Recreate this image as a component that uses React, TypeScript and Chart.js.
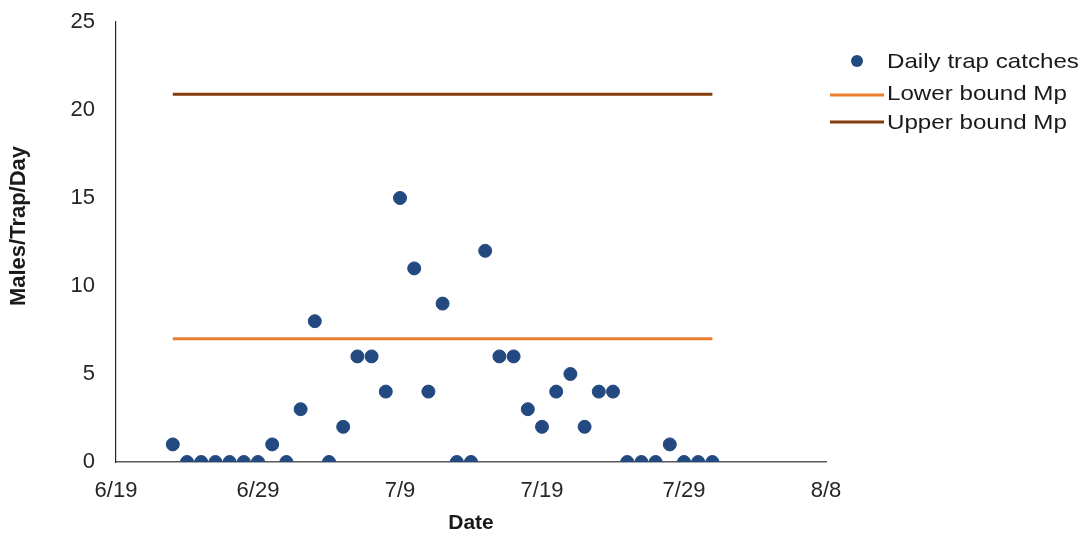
import React, { useEffect, useRef } from "react";
import { Chart, registerables } from "chart.js";

Chart.register(...registerables);

// Dates (month/day) of daily trap checks
const catchDates: string[] = [
  "6/23", "6/24", "6/25", "6/26", "6/27", "6/28", "6/29", "6/30", "7/1", "7/2",
  "7/3", "7/4", "7/5", "7/6", "7/7", "7/8", "7/9", "7/10", "7/11", "7/12",
  "7/13", "7/14", "7/15", "7/16", "7/17", "7/18", "7/19", "7/20", "7/21", "7/22",
  "7/23", "7/24", "7/25", "7/26", "7/27", "7/28", "7/29", "7/30", "7/31",
];
const dailyCatches: number[] = [
  1, 0, 0, 0, 0, 0, 0, 1, 0, 3,
  8, 0, 2, 6, 6, 4, 15, 11, 4, 9,
  0, 0, 12, 6, 6, 3, 2, 4, 5, 2,
  4, 4, 0, 0, 0, 1, 0, 0, 0,
];
const boundDates: string[] = ["6/23", "7/31"];
const lowerBound: number[] = [7, 7];
const upperBound: number[] = [20.9, 20.9];
const xTickDates: string[] = ["6/19", "6/29", "7/9", "7/19", "7/29", "8/8"];
const yTicks: number[] = [0, 5, 10, 15, 20, 25];

const legendLabels: string[] = ["Daily trap catches", "Lower bound Mp", "Upper bound Mp"];
const yTitle = "Males/Trap/Day";
const xTitle = "Date";

const DOT = "#234a80";
const ORANGE = "#ed7d31";
const BROWN = "#843c0c";
const FONT = "'Liberation Sans', Arial, sans-serif";

const monthStart: Record<number, number> = { 6: 0, 7: 30, 8: 61 };
const dayNum = (s: string): number => {
  const [m, d] = s.split("/").map(Number);
  return monthStart[m] + d;
};
const dayLabel = (n: number): string => {
  if (n > 61) return "8/" + (n - 61);
  if (n > 30) return "7/" + (n - 30);
  return "6/" + n;
};

export default function App() {
  const ref = useRef<HTMLCanvasElement | null>(null);

  useEffect(() => {
    document.body.style.margin = "0";
    const canvas = ref.current;
    if (!canvas) return;

    const legendPlugin = {
      id: "customLegend",
      afterDraw(chart: any) {
        const ctx = chart.ctx;
        ctx.save();
        // y-axis title
        ctx.save();
        ctx.translate(19, 226);
        ctx.rotate(-Math.PI / 2);
        ctx.font = `bold 22px ${FONT}`;
        ctx.fillStyle = "#1a1a1a";
        ctx.textAlign = "center";
        ctx.textBaseline = "middle";
        ctx.fillText(yTitle, 0, 0);
        ctx.restore();

        // dot
        ctx.beginPath();
        ctx.fillStyle = DOT;
        ctx.arc(857, 61, 6, 0, Math.PI * 2);
        ctx.fill();
        // lower
        ctx.strokeStyle = ORANGE;
        ctx.lineWidth = 3;
        ctx.beginPath();
        ctx.moveTo(830, 95);
        ctx.lineTo(884, 95);
        ctx.stroke();
        // upper
        ctx.strokeStyle = BROWN;
        ctx.beginPath();
        ctx.moveTo(830, 122);
        ctx.lineTo(884, 122);
        ctx.stroke();

        const ys = [62, 94, 123];
        ctx.font = `21px ${FONT}`;
        ctx.textBaseline = "middle";
        ctx.textAlign = "left";
        ctx.fillStyle = "#1a1a1a";
        legendLabels.forEach((t, i) => {
          ctx.save();
          ctx.translate(887, ys[i]);
          ctx.scale(1.15, 1);
          ctx.fillText(t, 0, 0);
          ctx.restore();
        });
        ctx.restore();
      },
    };

    const chart = new Chart(canvas, {
      type: "scatter",
      data: {
        datasets: [
          {
            label: legendLabels[0],
            data: catchDates.map((d, i) => ({ x: dayNum(d), y: dailyCatches[i] })),
            backgroundColor: DOT,
            borderColor: DOT,
            pointRadius: 6.5,
            pointHoverRadius: 6.5,
            order: 0,
          },
          {
            type: "line",
            label: legendLabels[1],
            data: boundDates.map((d, i) => ({ x: dayNum(d), y: lowerBound[i] })),
            borderColor: ORANGE,
            borderWidth: 3,
            pointRadius: 0,
            showLine: true,
            order: 2,
          } as any,
          {
            type: "line",
            label: legendLabels[2],
            data: boundDates.map((d, i) => ({ x: dayNum(d), y: upperBound[i] })),
            borderColor: BROWN,
            borderWidth: 3,
            pointRadius: 0,
            showLine: true,
            order: 1,
          } as any,
        ],
      },
      options: {
        animation: false,
        responsive: false,
        maintainAspectRatio: false,
        layout: { padding: { left: 0, right: 257, top: 22, bottom: 0 } },
        plugins: {
          legend: { display: false },
          tooltip: { enabled: false },
        },
        scales: {
          x: {
            type: "linear",
            min: dayNum(xTickDates[0]),
            max: dayNum(xTickDates[xTickDates.length - 1]),
            afterBuildTicks: (scale: any) => {
              scale.ticks = xTickDates.map((d) => ({ value: dayNum(d) }));
            },
            afterFit: (scale: any) => {
              scale.height = 536 - 462;
            },
            grid: { display: false, drawTicks: false },
            border: { display: true, color: "#595959", width: 1.5 },
            ticks: {
              padding: 16,
              color: "#262626",
              font: { family: FONT, size: 22 },
              callback: (v: any) => dayLabel(Number(v)),
              maxRotation: 0,
              autoSkip: false,
            },
            title: {
              display: true,
              text: xTitle,
              color: "#1a1a1a",
              font: { family: FONT, size: 21, weight: "bold" },
              padding: { top: 0, bottom: 0 },
            },
          },
          y: {
            min: yTicks[0],
            max: yTicks[yTicks.length - 1],
            afterBuildTicks: (scale: any) => {
              scale.ticks = yTicks.map((v) => ({ value: v }));
            },
            afterFit: (scale: any) => {
              scale.width = 116;
              scale.paddingTop = 0;
              scale.paddingBottom = 0;
            },
            grid: { display: false, drawTicks: false },
            border: { display: true, color: "#262626", width: 1.2 },
            ticks: {
              padding: 21,
              color: "#262626",
              font: { family: FONT, size: 22 },
            },
            title: { display: false },
          },
        },
      } as any,
      plugins: [legendPlugin],
    });

    return () => chart.destroy();
  }, []);

  return (
    <div style={{ position: "relative", width: 1083, height: 536, background: "#fff" }}>
      <canvas ref={ref} width={1083} height={536} style={{ display: "block" }} />
    </div>
  );
}
